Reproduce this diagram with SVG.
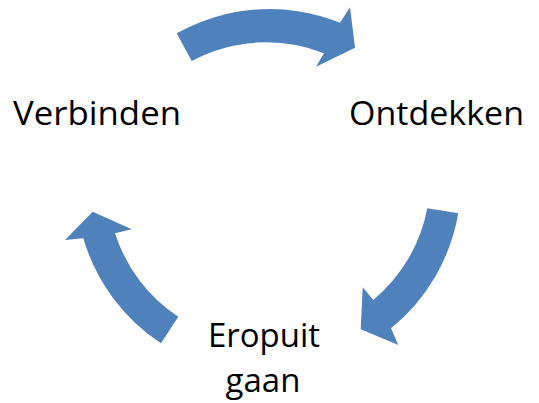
<svg xmlns="http://www.w3.org/2000/svg" width="539" height="403" viewBox="0 0 539 403">
<style>
.arrow{fill:#4F81BD;stroke:none}
.lbl{font-family:"Open Sans","Liberation Sans",sans-serif;font-size:33px;fill:#000}
</style>
<rect width="539" height="403" fill="#fff"/>
<g id="connectors">
<path id="arrow-top" class="arrow" d="M176.7,33.3 A190 190 0 0 1 340,22.7 L350,7.3 L355,47.7 L316,66.7 L324,53.3 A158 158 0 0 0 191.7,61 Z"/>
<path id="arrow-right" class="arrow" d="M427.3,208.3 L458.3,213.3 A190 190 0 0 1 391,328.3 L398.3,345 L360.7,329.3 L362.7,287.3 L373.3,300 A158 158 0 0 0 427.3,208.3 Z"/>
<path id="arrow-left" class="arrow" d="M178.3,316.7 L161,343.3 A190 190 0 0 1 83.3,238.3 L65,240 L92.7,211.7 L131.7,229.3 L115,233.3 A158 158 0 0 0 178.3,316.7 Z"/>
</g>
<g id="node-verbinden"><text class="lbl" x="13" y="125" textLength="168" lengthAdjust="spacingAndGlyphs">Verbinden</text></g>
<g id="node-ontdekken"><text class="lbl" x="349" y="125" textLength="175" lengthAdjust="spacingAndGlyphs">Ontdekken</text></g>
<g id="node-eropuit"><text class="lbl" x="264" y="347" text-anchor="middle">Eropuit</text><text class="lbl" x="263" y="392" text-anchor="middle">gaan</text></g>
</svg>
